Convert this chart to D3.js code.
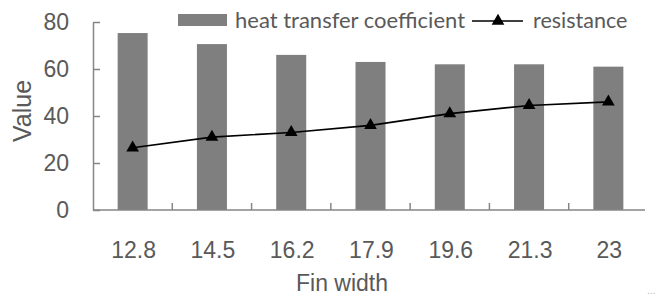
<!DOCTYPE html>
<html>
<head>
<meta charset="utf-8">
<script src="https://cdn.jsdelivr.net/npm/d3@7"></script>
<style>
  body { margin: 0; background: #fff; }
  text { fill: #595959; }
</style>
</head>
<body>
<script>
// chart data
var finWidths = ["12.8", "14.5", "16.2", "17.9", "19.6", "21.3", "23"];
var heatCoef = [75.3, 70.6, 66, 63, 62, 62, 61];
var resistance = [26.5, 31, 33, 36, 41, 44.5, 46];
var yTicks = [0, 20, 40, 60, 80];

var width = 669, height = 296,
    plotLeft = 93, plotRight = 648, plotTop = 22, plotBottom = 210,
    barWidth = 30,
    axisColor = "#868686";

var svg = d3.select("body").append("svg")
    .attr("width", width)
    .attr("height", height);

var x = d3.scaleBand()
    .domain(finWidths)
    .range([plotLeft, plotRight]);

var y = d3.scaleLinear()
    .domain([0, 80])
    .range([plotBottom, plotTop]);

// bars
svg.append("g").selectAll("rect")
    .data(heatCoef)
    .enter().append("rect")
    .attr("x", function (d, i) { return x(finWidths[i]) + x.bandwidth() / 2 - barWidth / 2; })
    .attr("y", function (d) { return y(d); })
    .attr("width", barWidth)
    .attr("height", function (d) { return y(0) - y(d); })
    .style("fill", "#7f7f7f");

// y axis, ticks pointing inward
var yAxis = svg.append("g")
    .attr("transform", "translate(" + plotLeft + ",0)")
    .call(d3.axisLeft(y).tickValues(yTicks).tickSize(-7).tickSizeOuter(0).tickPadding(24));
yAxis.select(".domain").attr("stroke", axisColor).attr("stroke-width", 1.5);
yAxis.selectAll(".tick line").attr("stroke", axisColor).attr("stroke-width", 1.5);
yAxis.selectAll(".tick text")
    .style("font-family", "'Liberation Sans', Arial, sans-serif")
    .style("font-size", "23px")
    .attr("fill", "#595959");

// x axis line with ticks between categories
svg.append("line")
    .attr("x1", plotLeft).attr("x2", plotRight - 3)
    .attr("y1", y(0)).attr("y2", y(0))
    .attr("stroke", axisColor).attr("stroke-width", 1.5);

svg.append("g").selectAll("line")
    .data(finWidths.slice(1))
    .enter().append("line")
    .attr("x1", function (d) { return x(d); })
    .attr("x2", function (d) { return x(d); })
    .attr("y1", y(0))
    .attr("y2", y(0) - 7)
    .attr("stroke", axisColor).attr("stroke-width", 1.5);

svg.append("g").selectAll("text")
    .data(finWidths)
    .enter().append("text")
    .attr("x", function (d) { return x(d) + x.bandwidth() / 2 + 1; })
    .attr("y", 258)
    .attr("text-anchor", "middle")
    .style("font-family", "'Liberation Sans', Arial, sans-serif")
    .style("font-size", "23px")
    .text(function (d) { return d; });

// resistance line
var line = d3.line()
    .x(function (d, i) { return x(finWidths[i]) + x.bandwidth() / 2; })
    .y(function (d) { return y(d); });

svg.append("path")
    .datum(resistance)
    .attr("d", line)
    .attr("fill", "none")
    .attr("stroke", "#000")
    .attr("stroke-width", 1.6);

var tri = d3.symbol().type(d3.symbolTriangle).size(70);
svg.append("g").selectAll("path")
    .data(resistance)
    .enter().append("path")
    .attr("d", tri)
    .attr("transform", function (d, i) {
        return "translate(" + (x(finWidths[i]) + x.bandwidth() / 2) + "," + y(d) + ")";
    })
    .attr("fill", "#000");

// axis titles
svg.append("text")
    .attr("transform", "translate(31,111) rotate(-90)")
    .attr("text-anchor", "middle")
    .style("font-family", "'Liberation Sans', Arial, sans-serif")
    .style("font-size", "25px")
    .text("Value");

svg.append("text")
    .attr("x", 342)
    .attr("y", 291)
    .attr("text-anchor", "middle")
    .style("font-family", "'Liberation Sans', Arial, sans-serif")
    .style("font-size", "23px")
    .text("Fin width");

// legend
var legendFont = "Lato, 'Open Sans', sans-serif";
svg.append("rect")
    .attr("x", 178).attr("y", 14)
    .attr("width", 49).attr("height", 12)
    .style("fill", "#7f7f7f");
svg.append("text")
    .attr("x", 235).attr("y", 28)
    .style("font-family", legendFont)
    .style("font-size", "22px")
    .text("heat transfer coefficient");

svg.append("line")
    .attr("x1", 472).attr("x2", 523)
    .attr("y1", 21).attr("y2", 21)
    .attr("stroke", "#000").attr("stroke-width", 1.6);
svg.append("path")
    .attr("d", tri)
    .attr("transform", "translate(498,21)")
    .attr("fill", "#000");
svg.append("text")
    .attr("x", 533).attr("y", 28)
    .style("font-family", legendFont)
    .style("font-size", "21.5px")
    .text("resistance");

// faint ellipsis in the corner
svg.append("text")
    .attr("x", 647).attr("y", 294)
    .style("font-family", "'Liberation Sans', Arial, sans-serif")
    .style("font-size", "10px")
    .style("fill", "#bbb")
    .text("...");
</script>
</body>
</html>
